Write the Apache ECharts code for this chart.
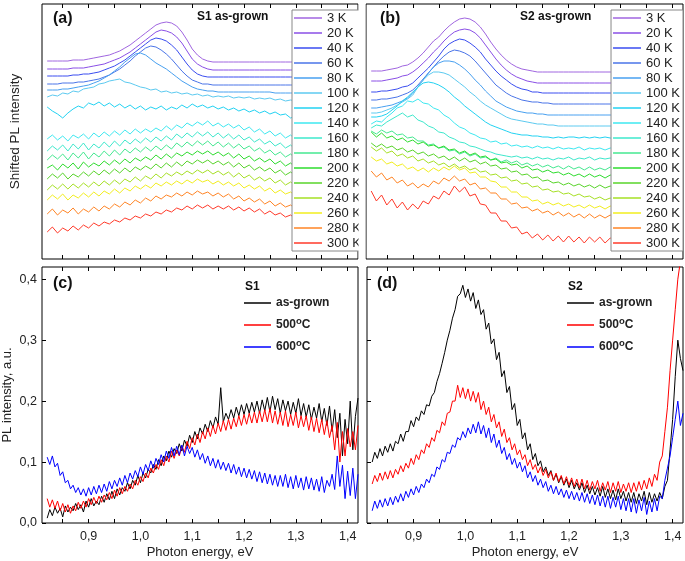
<!DOCTYPE html>
<html><head><meta charset="utf-8">
<script src="https://cdn.jsdelivr.net/npm/echarts@6/dist/echarts.min.js"></script>
<style>html,body{margin:0;padding:0;background:#fff}#c{width:685px;height:561px}</style>
</head><body><div id="c"></div>
<script>
// ---------- data ----------
// photon energy grid of the temperature series (a, b)
const energy = [0.82,0.83,0.84,0.85,0.86,0.87,0.88,0.89,0.90,0.91,
 0.92,0.93,0.94,0.95,0.96,0.97,0.98,0.99,1.00,1.01,
 1.02,1.03,1.04,1.05,1.06,1.07,1.08,1.09,1.10,1.11,
 1.12,1.13,1.14,1.15,1.16,1.17,1.18,1.19,1.20,1.21,
 1.22,1.23,1.24,1.25,1.26,1.27,1.28,1.29,1.30,1.31,
 1.32,1.33,1.34,1.35,1.36,1.37,1.38,1.39,1.40,1.41,
 1.42];
// photon energy grid of the annealing series (c, d)
const energyFine = [0.820,0.825,0.830,0.835,0.840,0.845,0.850,0.855,0.860,0.865,
 0.870,0.875,0.880,0.885,0.890,0.895,0.900,0.905,0.910,0.915,
 0.920,0.925,0.930,0.935,0.940,0.945,0.950,0.955,0.960,0.965,
 0.970,0.975,0.980,0.985,0.990,0.995,1.000,1.005,1.010,1.015,
 1.020,1.025,1.030,1.035,1.040,1.045,1.050,1.055,1.060,1.065,
 1.070,1.075,1.080,1.085,1.090,1.095,1.100,1.105,1.110,1.115,
 1.120,1.125,1.130,1.135,1.140,1.145,1.150,1.155,1.160,1.165,
 1.170,1.175,1.180,1.185,1.190,1.195,1.200,1.205,1.210,1.215,
 1.220,1.225,1.230,1.235,1.240,1.245,1.250,1.255,1.260,1.265,
 1.270,1.275,1.280,1.285,1.290,1.295,1.300,1.305,1.310,1.315,
 1.320,1.325,1.330,1.335,1.340,1.345,1.350,1.355,1.360,1.365,
 1.370,1.375,1.380,1.385,1.390,1.395,1.400,1.405,1.410,1.415,
 1.420];
const xTickValues = [0.85,0.9,0.95,1.0,1.05,1.1,1.15,1.2,1.25,1.3,1.35,1.4];
const xLabelValues = [0.9,1.0,1.1,1.2,1.3,1.4];
const yLabelValues = [0,0.1,0.2,0.3,0.4];
const temps = ['3 K','20 K','40 K','60 K','80 K','100 K','120 K','140 K','160 K','180 K','200 K','220 K','240 K','260 K','280 K','300 K'];
const treatments = ['as-grown','500°C','600°C'];

// Panel (a): S1 as-grown, shifted PL intensity (arbitrary shifted units)
const a3K = [198,198,198,198,198,199,199,199,200,201, 202,203,204,206,208,211,214,218,222,226, 230,234,236,237,236,233,227,219,210,204, 200,198,197,197,197,197,197,197,197,197, 197,197,197,197,197,197,197,197,197,197, 197,197,197,197,197,197,197,197,197,197, 197];
const a20K = [190,190,190,190,190,191,191,191,192,193, 194,195,197,199,201,204,207,211,215,219, 223,227,229,228,226,222,216,208,200,195, 192,190,189,189,189,189,189,189,189,189, 189,189,189,189,189,189,189,189,189,189, 189,189,189,189,189,189,189,189,189,189, 189];
const a40K = [183,183,183,183,183,184,184,185,185,186, 187,189,191,193,196,199,203,207,211,215, 219,221,220,218,214,209,202,195,189,185, 183,182,182,182,182,182,182,182,182,182, 182,182,182,182,182,182,182,182,182,182, 182,182,182,182,182,182,182,182,182,182, 182];
const a60K = [175,175,175,176,176,176,177,177,178,179, 180,182,184,187,190,194,198,203,207,211, 213,212,209,205,200,194,188,183,179,177, 175,175,174,174,174,174,174,174,174,174, 174,174,174,174,174,174,174,174,174,174, 174,174,174,174,174,174,174,174,174,174, 174];
const a80K = [169,169,169,170,170,171,172,173,174,176, 178,181,184,188,192,197,201,205,206,204, 200,196,193,190,186,182,178,175,172,170, 169,168,168,167,167,167,167,167,167,167, 167,167,167,167,166,166,166,166,166,166, 166,166,166,166,166,166,166,166,166,166, 166];
const a100K = [162,164,163,166,165,168,167,170,171,172, 175,176,178,179,180,177,176,174,172,171, 169,170,167,168,166,167,165,166,164,165, 163,164,162,163,162,163,161,162,161,162, 160,161,160,161,159,160,158,159,158,158, 157,158,157,157,156,157,156,156,155,156, 155];
const a120K = [152,148,145,141,146,150,153,151,156,154, 157,153,156,152,155,151,154,150,153,149, 152,150,153,149,152,150,154,151,155,152, 154,151,153,150,152,149,151,148,150,147, 149,146,148,145,147,144,145,141,143,141, 142,140,141,139,140,138,139,137,138,136, 137];
const a140K = [120,124,119,123,118,124,121,125,120,126, 122,127,123,128,124,129,125,130,126,130, 127,131,128,133,129,134,131,136,133,137, 134,138,133,136,132,135,131,134,129,132, 127,130,125,128,123,126,121,124,119,122, 118,121,117,120,116,119,115,118,114,117, 114];
const a160K = [108,113,109,114,108,115,110,116,109,115, 111,117,112,118,113,119,115,120,116,121, 117,122,118,123,119,125,121,126,122,127, 123,127,122,126,121,125,120,124,119,122, 117,120,115,118,113,116,111,114,109,112, 108,111,107,110,106,109,105,108,104,107, 104];
const a180K = [99,104,100,105,99,106,101,107,100,106, 102,108,103,109,104,110,106,111,107,112, 108,113,109,114,110,116,112,117,113,118, 114,118,113,117,112,116,111,115,110,113, 108,111,106,109,104,107,102,105,100,103, 99,102,98,101,97,100,96,99,95,98, 95];
const a200K = [91,94,89,95,91,96,90,97,92,96, 93,98,94,99,95,100,96,101,98,102, 99,104,100,105,101,106,103,107,104,108, 105,108,104,107,103,106,101,105,100,103, 98,101,97,100,95,98,93,96,91,94, 90,93,89,92,88,91,87,90,86,89, 86];
const a220K = [80,85,81,86,80,85,82,87,83,88, 84,89,85,90,86,91,87,92,89,93, 90,95,91,96,92,97,93,98,95,99, 96,99,95,98,94,97,92,96,91,94, 89,92,88,91,86,89,84,87,83,86, 82,85,81,84,80,83,79,82,78,81, 78];
const a240K = [69,74,70,75,70,75,71,76,72,77, 73,78,74,79,75,80,77,82,78,83, 80,85,81,86,83,87,84,88,85,89, 86,89,85,88,84,87,82,86,81,84, 79,82,78,81,76,79,74,77,73,76, 72,75,71,74,70,73,69,72,68,71, 68];
const a260K = [59,64,60,65,59,64,61,66,62,67, 63,68,65,70,66,71,68,73,70,74, 71,76,73,77,74,78,75,79,76,80, 77,79,75,78,74,77,73,76,71,74, 70,73,68,71,66,69,65,67,63,66, 62,65,61,64,60,63,59,62,58,61, 58];
const a280K = [45,50,44,49,46,51,45,50,47,52, 48,53,50,55,52,57,54,59,56,61, 58,63,60,64,62,66,63,67,64,68, 65,67,63,66,62,65,60,63,58,61, 57,60,55,58,53,56,52,54,50,53, 49,52,48,51,47,50,46,49,45,48, 45];
const a300K = [27,32,26,31,28,33,29,34,31,36, 33,37,35,39,37,41,39,43,41,45, 43,47,45,49,47,51,49,53,50,54, 51,54,50,53,50,53,49,52,48,51, 47,50,45,48,44,46,42,44,40,43, 39,42,38,41,37,40,36,39,35,38, 35];

// Panel (b): S2 as-grown, shifted PL intensity
const b3K = [188,188,188,189,190,191,193,194,197,201, 206,212,218,222,228,233,237,240,241,240, 237,232,225,217,210,204,199,195,192,190, 189,188,187,187,187,187,187,187,187,187, 187,187,187,187,187,187,187,187,187,187, 187,187,187,187,187,187,187,187,187,187, 187];
const b20K = [178,178,178,179,180,181,183,184,187,191, 196,201,207,212,218,223,227,229,230,229, 226,221,214,207,200,194,189,185,182,180, 178,177,176,176,176,176,176,176,176,176, 176,176,176,176,176,176,176,176,176,176, 176,176,176,176,176,176,176,176,176,176, 176];
const b40K = [167,167,168,168,169,170,172,173,176,181, 186,191,197,203,210,215,218,220,219,216, 212,207,200,194,188,183,179,175,172,170, 169,167,167,166,166,166,166,166,166,166, 166,166,166,166,166,166,166,166,166,166, 166,166,166,166,166,166,166,166,166,166, 166];
const b60K = [159,159,160,160,161,162,164,166,169,174, 180,186,192,198,203,207,209,208,206,203, 198,192,186,180,174,170,166,163,161,159, 158,157,157,156,156,155,155,155,155,155, 155,155,155,155,155,155,155,155,155,155, 155,155,155,155,155,155,155,155,155,155, 155];
const b80K = [151,151,152,153,154,156,158,161,166,172, 179,186,192,196,198,198,197,194,190,185, 179,174,168,163,158,155,152,150,148,147, 146,146,145,145,144,144,144,144,144,144, 144,144,144,144,144,144,144,144,144,144, 144,144,144,144,144,144,144,144,144,144, 144];
const b100K = [146,146,147,149,151,154,157,160,164,172, 179,184,187,187,186,184,180,176,172,167, 163,158,154,151,148,145,142,140,139,138, 137,136,135,135,134,134,133,133,133,133, 133,133,133,133,133,133,133,133,133,133, 133,133,133,133,133,133,133,133,133,133, 133];
const b120K = [142,142,143,145,149,153,158,162,167,172, 176,177,176,174,171,167,162,158,153,149, 145,141,137,134,132,130,128,126,125,124, 124,123,123,122,122,121,122,121,122,122, 121,122,121,122,121,122,121,121,122,121, 122,121,121,122,121,121,122,121,121,122, 121];
const b140K = [135,138,137,142,146,151,153,158,157,160, 156,155,151,149,144,141,136,132,130,126, 124,121,120,117,118,115,116,113,114,112, 113,111,113,111,112,110,112,110,111,110, 112,109,111,110,111,109,111,110,111,109, 111,110,111,109,110,111,109,110,111,109, 110];
const b160K = [131,134,133,137,140,143,146,142,144,139, 137,133,131,127,126,122,120,117,116,113, 112,110,108,107,105,104,103,102,103,101, 102,100,102,100,101,99,101,100,102,99, 101,100,102,99,101,100,101,99,101,100, 99,101,100,99,101,100,99,100,101,99, 100];
const b180K = [128,125,129,126,128,124,125,121,122,118, 118,114,115,111,112,108,109,105,107,103, 105,101,102,99,101,97,99,96,98,94, 96,93,95,92,94,91,93,90,93,90, 92,89,92,89,91,89,92,89,91,89, 91,88,91,89,90,88,91,89,90,88, 90];
const b200K = [127,122,126,121,123,119,121,117,119,115, 117,113,114,111,113,109,110,106,108,104, 106,102,103,99,100,96,97,94,95,91, 93,89,90,87,89,86,87,84,86,83, 85,82,85,82,84,81,84,81,83,81, 83,80,83,81,82,80,83,81,82,80, 82];
const b220K = [116,112,115,111,113,109,111,107,109,105, 107,103,105,101,103,99,102,98,101,97, 99,95,97,93,94,90,91,87,88,84, 85,81,82,78,79,76,77,74,76,73, 75,72,74,71,74,71,73,70,73,70, 72,69,72,70,71,69,72,70,71,69, 71];
const b240K = [112,108,111,106,108,103,105,101,103,98, 100,96,98,94,96,92,95,91,93,89, 91,87,88,84,85,81,82,78,79,75, 76,72,73,69,70,67,68,65,66,63, 65,62,63,60,62,59,61,58,61,58, 60,57,60,58,59,57,60,58,59,57, 59];
const b260K = [102,98,100,95,97,93,95,90,92,88, 91,87,91,88,92,89,93,89,91,86, 87,82,82,78,77,72,72,67,67,62, 62,58,59,55,57,54,56,53,55,52, 54,51,54,51,53,50,53,50,52,50, 52,49,52,50,51,49,52,50,51,49, 51];
const b280K = [88,82,86,79,82,76,79,73,76,71, 75,72,78,75,81,78,83,78,80,74, 76,70,71,66,66,60,60,55,56,51, 52,48,50,46,48,44,47,43,46,42, 45,41,45,41,44,41,44,40,43,40, 43,39,42,40,42,39,42,40,41,39, 41];
const b300K = [68,58,64,54,60,51,57,49,55,50, 58,55,63,60,68,64,73,67,72,63, 65,55,54,46,46,38,38,31,32,25, 27,21,25,19,24,18,23,17,23,17, 22,16,22,17,22,16,21,17,21,16, 21,17,20,16,21,17,20,16,21,17, 20];

// Panel (c): S1, PL intensity (a.u.), on energyFine
const cGrown = [0.008,0.022,0.012,0.026,0.016,0.024,0.010,0.028,0.018,0.026,
 0.020,0.032,0.022,0.030,0.018,0.036,0.026,0.040,0.028,0.036,
 0.030,0.044,0.034,0.048,0.038,0.052,0.040,0.056,0.046,0.058,
 0.052,0.066,0.056,0.070,0.062,0.078,0.066,0.082,0.074,0.088,
 0.082,0.096,0.088,0.104,0.094,0.110,0.102,0.118,0.108,0.122,
 0.114,0.130,0.118,0.136,0.126,0.144,0.132,0.150,0.138,0.156,
 0.146,0.162,0.150,0.168,0.156,0.174,0.162,0.222,0.166,0.180,
 0.170,0.186,0.172,0.190,0.176,0.194,0.178,0.196,0.180,0.198,
 0.182,0.200,0.180,0.202,0.184,0.206,0.182,0.208,0.186,0.204,
 0.180,0.202,0.184,0.200,0.178,0.198,0.180,0.204,0.176,0.196,
 0.174,0.194,0.170,0.190,0.172,0.196,0.166,0.188,0.160,0.192,
 0.150,0.186,0.140,0.180,0.110,0.170,0.130,0.200,0.120,0.175,
 0.205];
const c500 = [0.040,0.026,0.038,0.024,0.036,0.020,0.032,0.018,0.030,0.016,
 0.028,0.020,0.034,0.024,0.036,0.026,0.040,0.030,0.042,0.032,
 0.044,0.034,0.046,0.038,0.050,0.040,0.054,0.044,0.058,0.048,
 0.060,0.052,0.064,0.056,0.070,0.062,0.076,0.068,0.082,0.074,
 0.090,0.082,0.096,0.088,0.104,0.094,0.110,0.100,0.118,0.106,
 0.120,0.110,0.126,0.116,0.134,0.122,0.140,0.128,0.146,0.132,
 0.150,0.138,0.156,0.142,0.160,0.146,0.164,0.150,0.168,0.152,
 0.170,0.154,0.172,0.158,0.176,0.160,0.178,0.162,0.180,0.164,
 0.182,0.164,0.184,0.166,0.186,0.166,0.188,0.164,0.184,0.162,
 0.182,0.160,0.184,0.158,0.178,0.160,0.182,0.156,0.176,0.158,
 0.176,0.152,0.174,0.150,0.172,0.148,0.170,0.145,0.168,0.140,
 0.160,0.120,0.165,0.100,0.150,0.110,0.155,0.125,0.150,0.120,
 0.160];
const c600 = [0.108,0.096,0.110,0.092,0.098,0.078,0.084,0.066,0.070,0.056,
 0.062,0.050,0.058,0.046,0.056,0.044,0.058,0.046,0.060,0.048,
 0.062,0.050,0.064,0.052,0.068,0.056,0.070,0.060,0.074,0.062,
 0.078,0.066,0.082,0.072,0.086,0.076,0.092,0.080,0.096,0.086,
 0.102,0.090,0.106,0.096,0.112,0.100,0.118,0.106,0.124,0.110,
 0.126,0.112,0.128,0.110,0.126,0.114,0.124,0.108,0.120,0.104,
 0.114,0.098,0.110,0.094,0.106,0.090,0.104,0.088,0.100,0.086,
 0.098,0.082,0.096,0.080,0.092,0.076,0.090,0.074,0.088,0.072,
 0.086,0.068,0.084,0.066,0.082,0.064,0.080,0.062,0.078,0.060,
 0.078,0.060,0.080,0.058,0.076,0.056,0.078,0.058,0.074,0.054,
 0.076,0.056,0.074,0.054,0.072,0.052,0.076,0.050,0.070,0.060,
 0.080,0.055,0.110,0.060,0.095,0.040,0.085,0.045,0.090,0.040,
 0.080];

// Panel (d): S2, PL intensity (a.u.), on energyFine
const dGrown = [0.100,0.116,0.106,0.122,0.110,0.126,0.116,0.130,0.118,0.134,
 0.130,0.146,0.134,0.150,0.150,0.168,0.158,0.174,0.168,0.184,
 0.178,0.194,0.192,0.208,0.214,0.232,0.245,0.262,0.280,0.300,
 0.316,0.336,0.350,0.372,0.376,0.390,0.370,0.384,0.364,0.378,
 0.352,0.366,0.342,0.350,0.318,0.328,0.294,0.302,0.268,0.280,
 0.240,0.250,0.214,0.224,0.186,0.196,0.160,0.170,0.138,0.148,
 0.120,0.130,0.104,0.114,0.094,0.102,0.084,0.092,0.078,0.086,
 0.070,0.080,0.066,0.076,0.062,0.072,0.058,0.070,0.056,0.066,
 0.054,0.066,0.050,0.062,0.048,0.060,0.046,0.058,0.044,0.060,
 0.042,0.056,0.040,0.054,0.038,0.056,0.040,0.052,0.036,0.050,
 0.034,0.050,0.032,0.048,0.036,0.052,0.030,0.050,0.034,0.048,
 0.036,0.050,0.040,0.060,0.070,0.120,0.170,0.240,0.300,0.270,
 0.250];
const d500 = [0.064,0.078,0.068,0.082,0.070,0.084,0.072,0.086,0.074,0.088,
 0.080,0.094,0.084,0.098,0.090,0.106,0.096,0.112,0.104,0.120,
 0.114,0.130,0.124,0.140,0.134,0.152,0.148,0.166,0.160,0.180,
 0.182,0.200,0.200,0.226,0.206,0.222,0.204,0.220,0.200,0.216,
 0.198,0.214,0.186,0.200,0.178,0.190,0.166,0.178,0.156,0.166,
 0.142,0.154,0.132,0.140,0.120,0.130,0.112,0.120,0.104,0.112,
 0.094,0.104,0.088,0.096,0.082,0.092,0.078,0.088,0.074,0.084,
 0.070,0.082,0.068,0.078,0.064,0.076,0.062,0.074,0.060,0.072,
 0.058,0.072,0.056,0.070,0.054,0.068,0.056,0.070,0.052,0.066,
 0.054,0.068,0.050,0.066,0.052,0.068,0.050,0.064,0.052,0.066,
 0.050,0.066,0.052,0.068,0.054,0.070,0.056,0.074,0.060,0.080,
 0.070,0.100,0.110,0.150,0.190,0.250,0.300,0.350,0.400,0.430,
 0.440];
const d600 = [0.020,0.036,0.024,0.038,0.026,0.040,0.028,0.042,0.030,0.044,
 0.034,0.048,0.036,0.052,0.042,0.056,0.046,0.060,0.050,0.064,
 0.058,0.072,0.066,0.080,0.076,0.092,0.088,0.104,0.100,0.116,
 0.114,0.128,0.124,0.140,0.136,0.150,0.140,0.156,0.146,0.162,
 0.148,0.166,0.146,0.160,0.140,0.156,0.132,0.146,0.124,0.136,
 0.114,0.124,0.104,0.114,0.096,0.106,0.090,0.100,0.084,0.094,
 0.074,0.084,0.068,0.078,0.062,0.072,0.058,0.068,0.052,0.062,
 0.048,0.060,0.046,0.056,0.042,0.054,0.040,0.052,0.038,0.050,
 0.036,0.050,0.034,0.048,0.032,0.046,0.030,0.046,0.028,0.044,
 0.026,0.044,0.024,0.042,0.026,0.044,0.022,0.040,0.020,0.040,
 0.018,0.040,0.016,0.038,0.020,0.042,0.014,0.036,0.018,0.040,
 0.020,0.044,0.040,0.070,0.090,0.110,0.140,0.170,0.200,0.160,
 0.180];

// ---------- styling & assembly ----------
const tempColors = ['#a066e0','#8a4fe6','#3a4df0','#4a74e8','#48a0f0','#5ccaf0','#22d2f2','#3ee8f0','#3ee8cc','#44e890','#2edc2e','#58d42a','#a6e024','#f2ee1e','#ff8424','#ff3a2a'];
const treatColors = ['#000000','#ff0000','#0000ff'];
const panelA = [a3K,a20K,a40K,a60K,a80K,a100K,a120K,a140K,a160K,a180K,a200K,a220K,a240K,a260K,a280K,a300K];
const panelB = [b3K,b20K,b40K,b60K,b80K,b100K,b120K,b140K,b160K,b180K,b200K,b220K,b240K,b260K,b280K,b300K];
const panelC = [cGrown,c500,c600];
const panelD = [dGrown,d500,d600];

const FONT = '"Liberation Sans", Arial, sans-serif';
const X_MIN = 0.81, X_MAX = 1.42;
const fmt = v => v.toFixed(1).replace('.', ',');
const pts = (xs, ys) => xs.map((e, i) => [e, ys[i]]);

const grids = [
  {left:42, top:4, width:316, height:255},
  {left:366, top:4, width:317, height:255},
  {left:42, top:267, width:316, height:256},
  {left:367, top:267, width:316, height:256}
].map(g => Object.assign(g, {show:true, borderColor:'#000', borderWidth:1, backgroundColor:'rgba(0,0,0,0)'}));

function xAx(gi, position, showLabels, name) {
  return {
    type:'value', gridIndex:gi, position, min:X_MIN, max:X_MAX,
    axisLine:{show:false}, splitLine:{show:false},
    axisTick:{show:true, inside:true, length:4, customValues:xTickValues, lineStyle:{color:'#000', width:1}},
    axisLabel:{show:showLabels, customValues:xLabelValues, formatter:fmt, fontSize:12.5, color:'#222', fontFamily:FONT, margin:7},
    name: name || '', nameLocation:'middle', nameGap:23,
    nameTextStyle:{fontSize:13, color:'#222', fontFamily:FONT}
  };
}
function yTop(gi, name) {
  return {type:'value', gridIndex:gi, min:0, max:255,
    axisLine:{show:false}, axisTick:{show:false}, axisLabel:{show:false}, splitLine:{show:false},
    name: name || '', nameLocation:'middle', nameGap:20,
    nameTextStyle:{fontSize:13.5, color:'#222', fontFamily:FONT}};
}
function yBot(gi, showLabels, name) {
  return {type:'value', gridIndex:gi, min:0, max:0.42,
    axisLine:{show:false}, splitLine:{show:false},
    axisTick:{show:true, inside:true, length:4, customValues:yLabelValues, lineStyle:{color:'#000'}},
    axisLabel:{show:showLabels, customValues:yLabelValues, formatter:fmt, fontSize:12.5, color:'#222', fontFamily:FONT, margin:5},
    name: name || '', nameLocation:'middle', nameGap:28,
    nameTextStyle:{fontSize:13, color:'#222', fontFamily:FONT}};
}

const xAxes = [
  xAx(0,'bottom',false), xAx(0,'top',false),
  xAx(1,'bottom',false), xAx(1,'top',false),
  xAx(2,'bottom',true,'Photon energy, eV'), xAx(2,'top',false),
  xAx(3,'bottom',true,'Photon energy, eV'), xAx(3,'top',false)
];
const yAxes = [yTop(0,'Shifted PL intensity'), yTop(1), yBot(2,true,'PL intensity, a.u.'), yBot(3,false)];

const series = [];
function addSeries(xs, list, names, colors, xi, yi) {
  list.forEach((ys, i) => series.push({
    type:'line', name:names[i], xAxisIndex:xi, yAxisIndex:yi, data:pts(xs, ys),
    symbol:'none', silent:true, clip:true,
    lineStyle:{width:1, color:colors[i]}, itemStyle:{color:colors[i]}
  }));
}
addSeries(energy, panelA, temps, tempColors, 0, 0);
addSeries(energy, panelB, temps, tempColors, 2, 1);
addSeries(energyFine, panelC, treatments, treatColors, 4, 2);
addSeries(energyFine, panelD, treatments, treatColors, 6, 3);

const tempLegend = pos => Object.assign({
  orient:'vertical', top:10, data:temps, icon:'rect', itemWidth:28, itemHeight:1.5, itemGap:1,
  padding:[1,3,1,2], borderColor:'#888', borderWidth:1, backgroundColor:'#fff',
  selectedMode:false, textStyle:{fontSize:13, color:'#222', fontFamily:FONT, lineHeight:14}
}, pos);
// superscript "o" of the degree sign, like the original figure
const supFmt = name => name.includes('°C')
  ? '{n|' + name.replace('°C', '}{sup|o}{n|C}')
  : '{n|' + name + '}';
const treatLegend = left => ({
  orient:'vertical', left, top:297, data:treatments, icon:'rect', itemWidth:27, itemHeight:1.5, itemGap:7,
  padding:0, selectedMode:false, formatter:supFmt,
  textStyle:{fontSize:12, fontWeight:'bold', color:'#222', fontFamily:FONT,
    rich:{
      n:{fontSize:12, fontWeight:'bold', color:'#222', fontFamily:FONT},
      sup:{fontSize:9.5, fontWeight:'bold', color:'#222', fontFamily:FONT, padding:[0,0,8,0]}
    }}
});

const txt = (left, top, text, size) => ({type:'text', left, top, z:50,
  style:{text, fill:'#111', fontSize:size, fontWeight:'bold', fontFamily:FONT}});

const option = {
  animation:false,
  backgroundColor:'#fff',
  grid:grids,
  xAxis:xAxes,
  yAxis:yAxes,
  series,
  legend:[tempLegend({left:292}), tempLegend({right:2}), treatLegend(244), treatLegend(567)],
  graphic:[
    {type:'rect', shape:{x:358.5, y:0, width:7, height:263}, style:{fill:'#fff'}, z:100},
    txt(53, 11, '(a)', 16), txt(197, 11, 'S1 as-grown', 12),
    txt(380, 11, '(b)', 16), txt(520, 11, 'S2 as-grown', 12),
    txt(53, 276, '(c)', 16), txt(245, 281, 'S1', 12),
    txt(377, 276, '(d)', 16), txt(568, 281, 'S2', 12)
  ]
};
const chart = echarts.init(document.getElementById('c'));
chart.setOption(option);
</script></body></html>
